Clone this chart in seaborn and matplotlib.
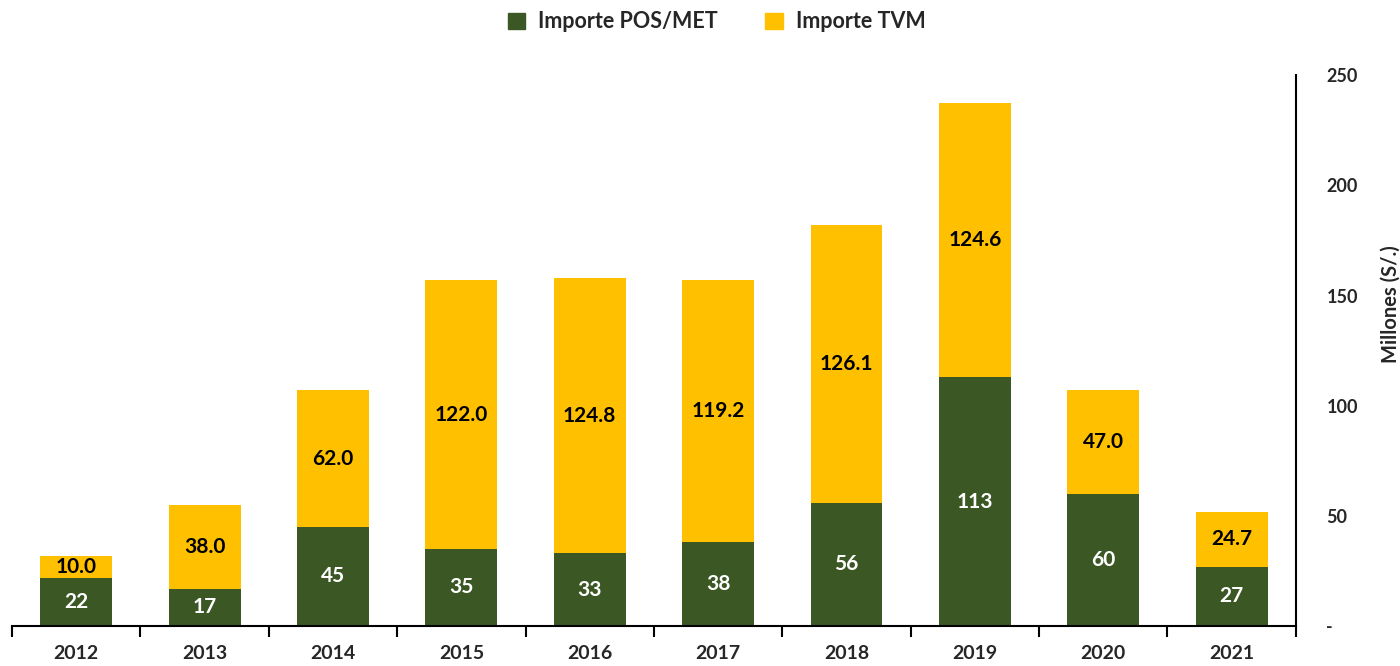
import matplotlib
matplotlib.use("Agg")
import matplotlib.pyplot as plt
from matplotlib.patches import Patch
import seaborn as sns
import pandas as pd
import numpy as np

years = ["2012", "2013", "2014", "2015", "2016", "2017", "2018", "2019", "2020", "2021"]
pos_met = [22, 17, 45, 35, 33, 38, 56, 113, 60, 27]
tvm = [10.0, 38.0, 62.0, 122.0, 124.8, 119.2, 126.1, 124.6, 47.0, 24.7]

green = "#3B5724"
yellow = "#FFC000"

sns.set_theme(style="white")
plt.rcParams["font.family"] = ["Lato", "DejaVu Sans"]

df = pd.DataFrame({"year": years, "pos": pos_met, "tvm": tvm})
df["total"] = df["pos"] + df["tvm"]

fig = plt.figure(figsize=(14, 6.66), dpi=100)
ax = fig.add_axes([0.0086, 0.060, 0.917, 0.827])

# stacked bars: full total in yellow, POS/MET in green over it
sns.barplot(data=df, x="year", y="total", color=yellow, width=0.56,
            saturation=1, linewidth=0, ax=ax)
sns.barplot(data=df, x="year", y="pos", color=green, width=0.56,
            saturation=1, linewidth=0, ax=ax)

# value labels
for i, row in df.iterrows():
    ax.text(i, row["pos"] / 2, f"{row['pos']:.0f}", ha="center", va="center",
            color="white", fontsize=15, fontweight="bold")
    ax.text(i, row["pos"] + row["tvm"] / 2, f"{row['tvm']:.1f}", ha="center",
            va="center", color="black", fontsize=15, fontweight="bold")

ax.set_xlim(-0.5, len(years) - 0.5)
ax.set_ylim(0, 250)
ax.set_xlabel("")

# x axis: labels centered, tick marks at category boundaries
ax.set_xticks(range(len(years)))
ax.set_xticklabels(years, fontsize=14, fontweight="bold")
ax.set_xticks(np.arange(-0.5, len(years), 1), minor=True)
ax.tick_params(axis="x", which="major", length=0, pad=14)
ax.tick_params(axis="x", which="minor", length=8, width=1.5, direction="out",
               bottom=True, color="black")

# y axis on right
ax.yaxis.tick_right()
ax.yaxis.set_label_position("right")
ax.set_yticks([0, 50, 100, 150, 200, 250])
ax.set_yticklabels(["-", "50", "100", "150", "200", "250"], fontsize=13,
                   fontweight="bold")
ax.tick_params(axis="y", length=0, pad=22)
for lbl in ax.get_yticklabels():
    lbl.set_horizontalalignment("left")
ax.set_ylabel("Millones (S/.)", fontsize=14.5, fontweight="bold")
ax.yaxis.set_label_coords(1.066, 0.585)

for s in ["top", "left"]:
    ax.spines[s].set_visible(False)
for s in ["right", "bottom"]:
    ax.spines[s].set_color("black")
    ax.spines[s].set_linewidth(1.5)

leg_handles = [Patch(color=green), Patch(color=yellow)]
fig.legend(leg_handles, ["Importe POS/MET", "Importe TVM"], loc="upper center",
           bbox_to_anchor=(0.512, 1.012), ncol=2, frameon=False,
           prop={"size": 15.5, "weight": "bold"}, handlelength=0.8,
           handleheight=0.8, columnspacing=2.2, handletextpad=0.6)

fig.savefig("out.png", dpi=100)
